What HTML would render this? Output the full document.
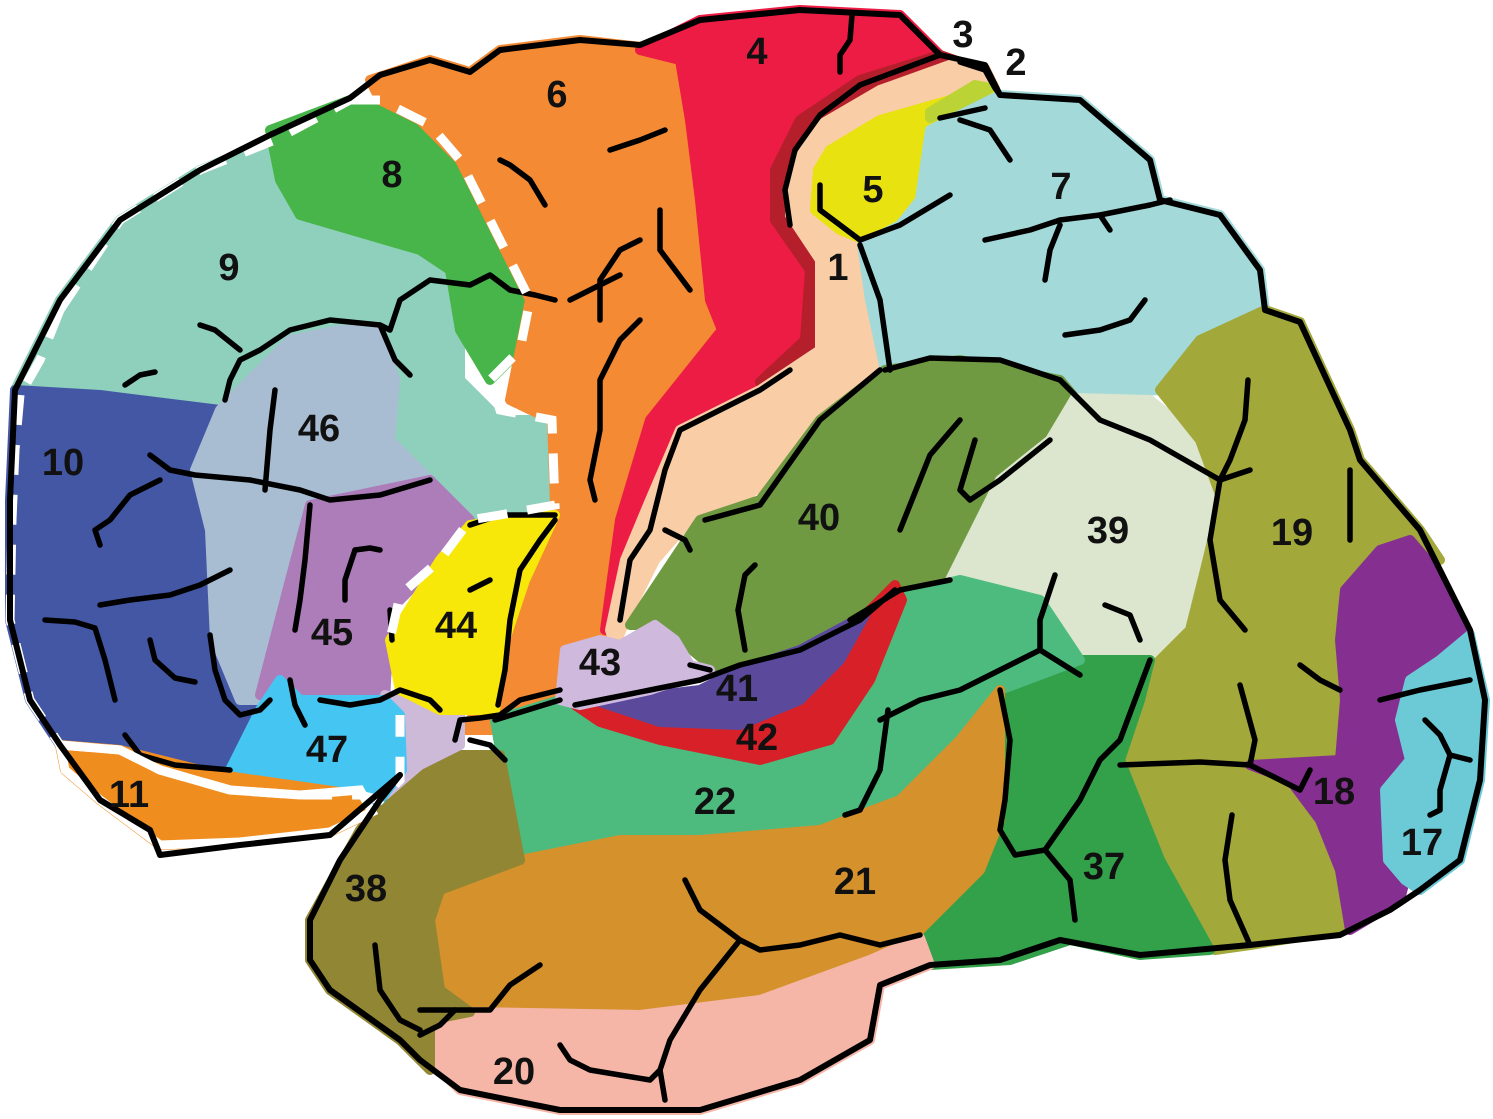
<!DOCTYPE html>
<html><head><meta charset="utf-8"><style>
html,body{margin:0;padding:0;background:#fff;}
svg{display:block;}
text{font-family:"Liberation Sans",sans-serif;font-weight:bold;font-size:38px;fill:#111;text-anchor:middle;dominant-baseline:central;}
.s{fill:none;stroke:#000;stroke-width:5.5;stroke-linecap:round;stroke-linejoin:round;}
#regions polygon{stroke-width:10;stroke-linejoin:round;}
</style></head><body>
<svg width="1493" height="1119" viewBox="0 0 1493 1119">
<g id="regions">
<polygon fill="#8FD0BC" points="15,390 60,300 120,220 200,170 275,140 290,210 360,230 430,250 460,290 460,380 500,420 552,420 555,505 480,520 440,480 310,505 220,410 100,395"/>
<polygon fill="#47B549" points="270,130 350,100 420,120 460,160 500,240 530,300 520,350 490,380 460,330 450,270 420,250 300,215 280,180"/>
<polygon fill="#F48A33" points="370,80 430,60 470,72 500,50 580,40 650,48 680,60 690,120 700,200 710,300 722,330 650,420 620,520 605,630 570,690 500,730 460,730 490,700 500,640 520,560 555,505 552,420 510,400 530,300 500,240 460,160 420,120 380,100"/>
<polygon fill="#EC1C45" points="640,50 700,20 800,10 900,15 940,55 860,80 800,120 775,170 775,220 810,270 805,340 760,380 680,420 650,500 625,560 610,630 605,630 620,520 650,420 722,330 710,300 700,200 690,120 680,60"/>
<polygon fill="#B51F2B" points="940,55 960,62 880,90 820,125 795,165 790,215 820,260 820,350 780,380 760,382 805,340 810,270 775,220 775,170 800,120 860,80"/>
<polygon fill="#F9CDA6" points="958,62 985,68 995,88 940,105 880,130 830,160 820,200 860,240 870,300 885,370 850,400 800,460 740,500 690,520 655,560 630,610 615,645 610,630 625,560 650,500 680,430 760,390 820,350 820,260 790,215 795,165 820,125 880,90"/>
<polygon fill="#E8E210" points="830,150 880,120 950,100 990,88 985,108 930,130 920,200 900,225 865,240 840,230 815,210 818,170"/>
<polygon fill="#BCD335" points="930,112 975,85 990,88 975,98 930,118"/>
<polygon fill="#A3D9D9" points="930,130 990,100 1000,95 1080,100 1150,160 1160,200 1220,215 1260,270 1265,310 1200,340 1160,390 1075,395 1060,380 960,360 885,370 870,300 862,245 900,225 920,200"/>
<polygon fill="#709A42" points="885,370 960,360 1060,380 1075,398 1050,440 1000,480 950,580 880,590 860,615 800,650 740,670 710,665 680,640 660,625 630,625 660,580 700,520 760,500 820,420"/>
<polygon fill="#DCE6CE" points="1075,398 1150,400 1200,440 1222,500 1205,570 1190,630 1150,660 1080,660 1040,600 950,580 1000,480 1050,440"/>
<polygon fill="#A2A83A" points="1160,390 1200,340 1265,310 1300,322 1350,430 1360,460 1420,530 1440,560 1400,545 1360,570 1340,610 1340,700 1335,760 1300,790 1330,830 1345,930 1250,945 1215,950 1160,860 1130,790 1120,760 1140,680 1190,630 1205,570 1222,500 1200,440"/>
<polygon fill="#852F91" points="1345,590 1380,550 1410,540 1440,575 1470,635 1440,660 1410,680 1400,720 1410,760 1385,790 1388,860 1405,880 1400,900 1350,930 1340,870 1320,820 1290,780 1250,765 1340,760 1345,700 1340,640"/>
<polygon fill="#6CCAD6" points="1470,635 1485,700 1480,780 1460,860 1420,890 1405,880 1388,860 1385,790 1410,760 1400,720 1410,680 1440,660"/>
<polygon fill="#33A04A" points="1000,690 1080,660 1150,660 1140,700 1120,760 1160,860 1210,950 1140,955 1070,940 1010,960 930,965 920,930 980,870 1000,820"/>
<polygon fill="#4DBB7E" points="495,720 560,700 580,705 620,730 720,760 830,740 880,600 960,580 1040,600 1080,660 1000,690 960,740 900,800 820,830 700,840 520,860 505,780"/>
<polygon fill="#D72027" points="575,705 600,700 660,720 740,725 800,700 840,660 865,615 895,585 902,600 870,680 830,740 760,760 660,740 600,722"/>
<polygon fill="#5B4A9C" points="600,702 700,690 740,670 800,650 865,615 840,660 800,700 740,725 660,722"/>
<polygon fill="#CFB9DC" points="565,650 600,640 620,645 655,625 675,640 690,665 710,670 650,690 580,705 560,700"/>
<polygon fill="#D4912C" points="440,890 520,860 620,840 700,840 820,830 900,800 960,740 1000,690 1000,820 980,870 920,930 880,950 760,1000 640,1015 470,1012 440,990 430,920"/>
<polygon fill="#F5B6A8" points="430,1020 470,1012 640,1015 760,1000 870,960 920,938 930,965 880,985 870,1040 800,1080 700,1110 560,1110 460,1090 430,1060"/>
<polygon fill="#918634" points="310,920 360,830 400,780 460,755 500,755 520,860 440,890 430,920 440,990 470,1012 430,1020 430,1070 400,1040 330,990 310,960"/>
<polygon fill="#4357A5" points="15,390 100,395 220,410 195,470 210,530 215,640 240,700 260,710 230,770 120,760 60,745 30,700 10,620 10,500"/>
<polygon fill="#A8BDD1" points="220,410 290,340 340,330 380,330 395,380 390,440 430,480 310,505 290,580 260,700 240,700 215,640 210,530 195,470"/>
<polygon fill="#AC7DB8" points="310,505 430,480 470,520 440,560 390,610 385,700 300,700 260,695 290,580"/>
<polygon fill="#CDB9D8" points="385,695 420,705 460,715 460,745 420,765 385,795 400,730"/>
<polygon fill="#F8E80A" points="470,525 555,515 525,580 505,640 495,710 440,710 400,690 390,640 440,560"/>
<polygon fill="#45C5F1" points="280,680 300,700 385,700 400,715 402,770 380,800 240,800 230,770 260,710"/>
<polygon fill="#F08D1F" points="60,745 120,750 220,775 360,795 372,812 330,832 240,842 160,845 100,800 65,770"/>
</g>
<script>
document.querySelectorAll('#regions polygon').forEach(function(p){p.setAttribute('stroke',p.getAttribute('fill'));});
</script>
<g>
<path class="s" d="M852,15 L850,40 840,55 840,72"/>
<path class="s" d="M940,55 L900,70 860,85 820,115 795,150 785,190 790,225"/>
<path class="s" d="M1000,95 L995,88 985,70 960,62"/>
<path class="s" d="M985,108 L940,118"/>
<path class="s" d="M960,120 L990,130 1010,160"/>
<path class="s" d="M820,185 L820,210 860,240 900,225 950,195"/>
<path class="s" d="M860,245 L880,300 890,370"/>
<path class="s" d="M985,240 L1030,230 1060,220 1100,215 1150,205 1170,200"/>
<path class="s" d="M1060,225 L1050,250 1045,280"/>
<path class="s" d="M1100,215 L1110,230"/>
<path class="s" d="M1065,335 L1100,330 1130,320 1145,300"/>
<path class="s" d="M885,370 L930,358 1000,360 1060,380"/>
<path class="s" d="M1060,380 L1100,420 1150,440 1220,480 1250,470"/>
<path class="s" d="M1248,380 L1245,420 1230,460 1220,480"/>
<path class="s" d="M1220,480 L1210,540 1220,600 1245,630"/>
<path class="s" d="M1350,470 L1350,540"/>
<path class="s" d="M1105,605 L1130,615 1140,640"/>
<path class="s" d="M1055,575 L1040,620 1040,650 1080,675"/>
<path class="s" d="M1040,650 L1000,670 960,690 920,700 890,715 880,720"/>
<path class="s" d="M888,710 L880,770 860,810 845,815"/>
<path class="s" d="M1000,690 L1010,740 1005,800 1000,830 1015,855 1045,850 1080,800 1100,760 1120,740 1150,660"/>
<path class="s" d="M1045,850 L1070,880 1075,920"/>
<path class="s" d="M1120,765 L1200,762 1250,765 1300,790 1310,770"/>
<path class="s" d="M1300,665 L1320,680 1340,690"/>
<path class="s" d="M1240,685 L1255,740 1250,765"/>
<path class="s" d="M1232,815 L1225,860 1230,900 1250,945"/>
<path class="s" d="M1380,700 L1420,690 1470,680"/>
<path class="s" d="M1425,720 L1440,735 1450,755 1440,790 1440,810 1430,815"/>
<path class="s" d="M1450,755 L1470,760"/>
<path class="s" d="M1050,440 L1000,480 970,500 960,490 975,440"/>
<path class="s" d="M900,530 L930,455 960,420"/>
<path class="s" d="M850,620 L900,590 950,580"/>
<path class="s" d="M705,520 L760,505 820,420 880,370"/>
<path class="s" d="M575,705 L600,700 650,690 700,680 740,665 800,650 860,620 895,590"/>
<path class="s" d="M690,665 L710,670"/>
<path class="s" d="M745,650 L738,610 745,575 755,565"/>
<path class="s" d="M495,720 L560,700"/>
<path class="s" d="M665,530 L685,540 690,550"/>
<path class="s" d="M620,620 L630,560 650,530 665,470 680,430 760,390 790,370"/>
<path class="s" d="M610,150 L640,140 665,130"/>
<path class="s" d="M545,205 L530,180 510,165 500,160"/>
<path class="s" d="M660,210 L660,250 690,290"/>
<path class="s" d="M600,320 L600,280 620,250 640,240"/>
<path class="s" d="M570,300 L600,285 620,275"/>
<path class="s" d="M640,320 L620,340 600,380 600,430 590,480 595,500"/>
<path class="s" d="M555,300 L535,295 510,290 490,275 470,285 430,280 400,300 390,330 380,325 330,320 290,330 260,350 240,360 230,380 225,400"/>
<path class="s" d="M380,325 L395,360 410,375"/>
<path class="s" d="M200,325 L215,330 240,350"/>
<path class="s" d="M125,385 L140,375 155,372"/>
<path class="s" d="M275,390 L270,430 265,490"/>
<path class="s" d="M150,455 L170,470 195,475 250,480 300,490 330,500 380,495 430,480"/>
<path class="s" d="M160,480 L130,495 110,520 95,530 100,545"/>
<path class="s" d="M310,505 L305,560 300,600 295,630"/>
<path class="s" d="M355,550 L370,548 380,550"/>
<path class="s" d="M355,550 L345,580 345,600"/>
<path class="s" d="M230,570 L200,585 170,595 130,600 100,605"/>
<path class="s" d="M45,620 L75,622 95,628 105,660 115,700"/>
<path class="s" d="M150,640 L155,660 175,678 195,682"/>
<path class="s" d="M210,635 L215,670 225,700 240,715 260,710 270,700"/>
<path class="s" d="M290,680 L295,705 305,725"/>
<path class="s" d="M320,700 L350,705 380,700 400,690 430,700 440,710"/>
<path class="s" d="M125,735 L140,755 175,765 230,770"/>
<path class="s" d="M455,740 L460,720 480,718 500,715 520,700 560,690"/>
<path class="s" d="M555,520 L540,540 520,570 510,620 505,670 498,705"/>
<path class="s" d="M470,525 L500,515 555,515"/>
<path class="s" d="M505,760 L490,745 470,740"/>
<path class="s" d="M490,580 L470,590"/>
<path class="s" d="M390,610 L392,640"/>
<path class="s" d="M685,880 L700,910 740,940 760,950 800,945 840,935 880,945 920,935"/>
<path class="s" d="M740,940 L700,990 670,1040 660,1070 650,1080 590,1070 570,1060 560,1045"/>
<path class="s" d="M660,1070 L665,1100"/>
<path class="s" d="M540,965 L510,985 490,1010 440,1010 420,1010"/>
<path class="s" d="M375,945 L380,990 400,1020 420,1030"/>
<path class="s" d="M455,1010 L440,1025 420,1035"/>
</g>
<path d="M20,395 L15,450 12,520 10,620 30,700 60,745 M60,745 L120,750 160,770 230,790 300,795 360,795 380,800 400,780 400,715 M350,100 L380,100 430,125 460,160 500,240 530,300 520,350 490,380 500,410 552,420 555,505 500,515 470,520 440,560 400,595 390,640 M60,310 L40,360 20,395 M60,310 L120,220 200,170 275,140 350,100" fill="none" stroke="#fff" stroke-width="9" stroke-dasharray="30,20"/>
<path d="M60,745 L65,770 100,800 160,845 240,842 330,832 372,812 360,790 300,795 230,790 160,770 120,750 Z" fill="none" stroke="#fff" stroke-width="9"/>
<path class="s" style="stroke-width:6" d="M15,390 L60,300 120,220 200,170 270,135 350,98 380,75 430,60 470,72 500,50 580,40 640,45 700,20 800,10 900,15 940,55 985,65 1000,95 1080,100 1150,160 1160,200 1220,215 1260,270 1265,310 1300,322 1350,430 1360,460 1420,530 1470,630 1485,700 1480,780 1460,860 1420,890 1390,910 1340,935 1250,945 1140,955 1060,940 1000,960 930,965 880,985 870,1040 800,1080 700,1110 560,1110 460,1090 420,1060 400,1040 330,990 310,960 310,920 340,860 380,800 400,775 330,835 240,845 160,855 150,830 100,800 60,745 30,700 10,620 10,500 Z"/>
<g>
<text x="757" y="52">4</text>
<text x="963" y="35">3</text>
<text x="1016" y="63">2</text>
<text x="557" y="95">6</text>
<text x="392" y="175">8</text>
<text x="873" y="190">5</text>
<text x="1061" y="187">7</text>
<text x="229" y="268">9</text>
<text x="838" y="268">1</text>
<text x="319" y="429">46</text>
<text x="63" y="463">10</text>
<text x="819" y="518">40</text>
<text x="1108" y="531">39</text>
<text x="1292" y="533">19</text>
<text x="456" y="626">44</text>
<text x="332" y="633">45</text>
<text x="600" y="663">43</text>
<text x="737" y="689">41</text>
<text x="757" y="738">42</text>
<text x="327" y="750">47</text>
<text x="1334" y="792">18</text>
<text x="129" y="795">11</text>
<text x="715" y="802">22</text>
<text x="1422" y="843">17</text>
<text x="1104" y="867">37</text>
<text x="855" y="882">21</text>
<text x="366" y="889">38</text>
<text x="514" y="1072">20</text>
</g>
</svg>
</body></html>
